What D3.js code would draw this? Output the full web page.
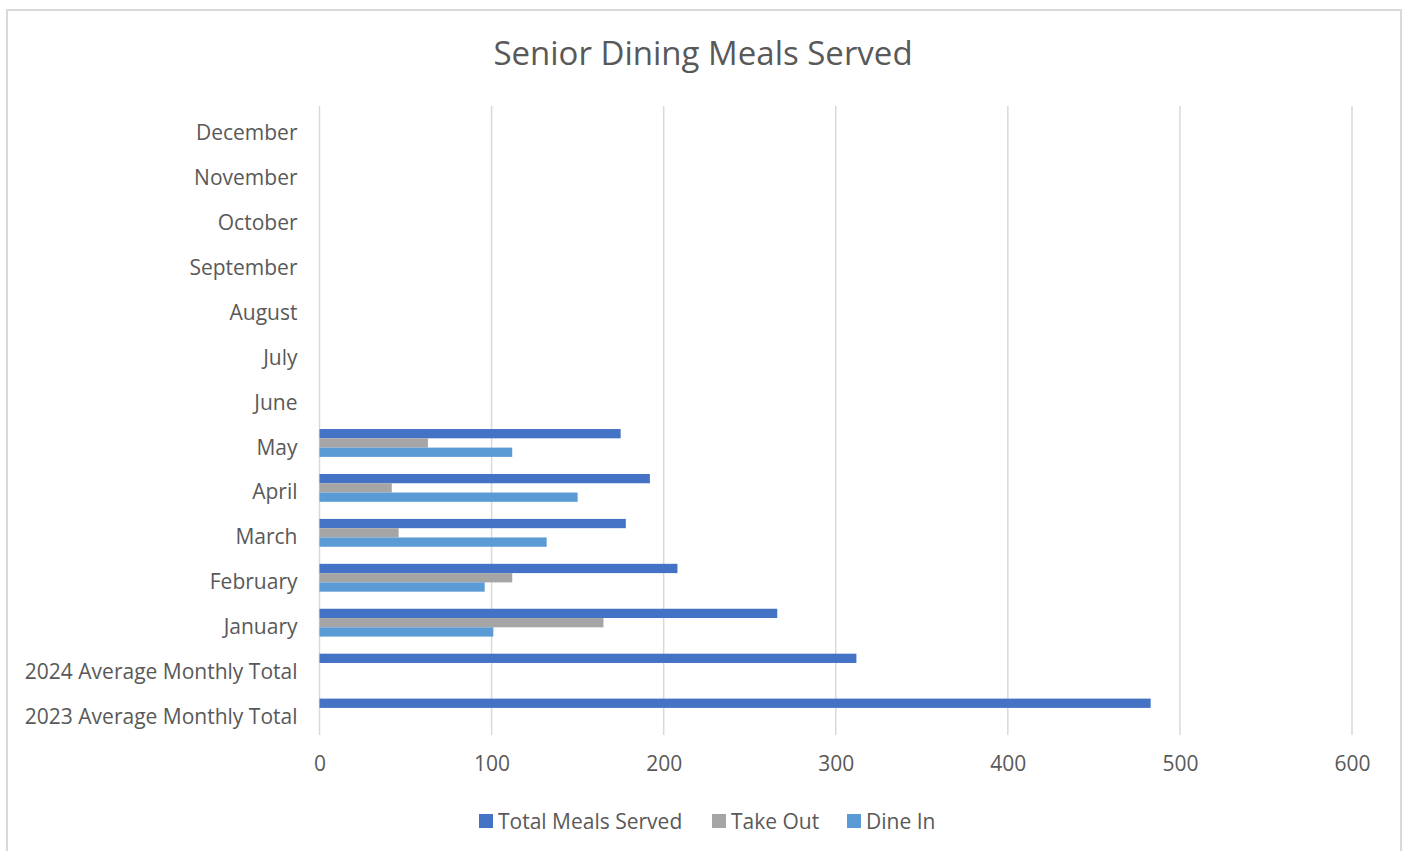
<!DOCTYPE html>
<html>
<head>
<meta charset="utf-8">
<script src="https://cdn.jsdelivr.net/npm/d3@7"></script>
<style>
  body { margin: 0; background: #fff; }
  text { font-family: "Open Sans", "Noto Sans", sans-serif; fill: #595959; }
</style>
</head>
<body>
<svg id="chart" width="1406" height="851"></svg>
<script>
// categories top to bottom, as shown on the chart
var categories = ["December", "November", "October", "September", "August", "July", "June",
  "May", "April", "March", "February", "January", "2024 Average Monthly Total", "2023 Average Monthly Total"]
var series = ["Total Meals Served", "Take Out", "Dine In"]
var totalMeals = [null, null, null, null, null, null, null, 175, 192, 178, 208, 266, 312, 483]
var takeOut = [null, null, null, null, null, null, null, 63, 42, 46, 112, 165, null, null]
var dineIn = [null, null, null, null, null, null, null, 112, 150, 132, 96, 101, null, null]
var xTicks = [0, 100, 200, 300, 400, 500, 600]

var colors = { "Total Meals Served": "#4472C4", "Take Out": "#A5A5A5", "Dine In": "#5B9BD5" }
var values = { "Total Meals Served": totalMeals, "Take Out": takeOut, "Dine In": dineIn }

var svg = d3.select("#chart")
var margin = { left: 319.5, right: 1352, top: 106, bottom: 735 }

// chart frame (bottom edge runs off the page)
svg.append("rect").attr("x", 7).attr("y", 10).attr("width", 1394).attr("height", 900)
  .attr("fill", "none").attr("stroke", "#d9d9d9").attr("stroke-width", 2)

svg.append("text").attr("x", 703).attr("y", 65).attr("text-anchor", "middle")
  .attr("font-size", 33).text("Senior Dining Meals Served")

var x = d3.scaleLinear().domain([0, 600]).range([margin.left, margin.right])
var y = d3.scaleBand().domain(categories).range([margin.top, margin.bottom]).paddingInner(0.38).paddingOuter(0.19)
var ySub = d3.scaleBand().domain(series).range([0, y.bandwidth()])

// gridlines
svg.append("g").selectAll("line").data(xTicks).join("line")
  .attr("x1", d => x(d)).attr("x2", d => x(d))
  .attr("y1", margin.top).attr("y2", margin.bottom)
  .attr("stroke", "#d9d9d9").attr("stroke-width", 1.5)

// x axis labels
var xAxis = svg.append("g").attr("transform", "translate(0," + (margin.bottom + 21) + ")")
  .call(d3.axisBottom(x).tickValues(xTicks).tickSize(0).tickPadding(0))
xAxis.select(".domain").remove()
xAxis.selectAll("text").attr("font-size", 21).attr("fill", "#595959")
  .attr("font-family", "'Open Sans', 'Noto Sans', sans-serif")

// y axis labels
var yAxis = svg.append("g").attr("transform", "translate(" + (margin.left - 22) + ",0)")
  .call(d3.axisLeft(y).tickSize(0).tickPadding(0))
yAxis.select(".domain").remove()
yAxis.selectAll("text").attr("font-size", 21).attr("fill", "#595959").attr("dy", "0.55em")
  .attr("font-family", "'Open Sans', 'Noto Sans', sans-serif")

// bars
series.forEach(function (s) {
  var rows = categories.map((c, i) => ({ cat: c, v: values[s][i] })).filter(d => d.v != null)
  svg.append("g").selectAll("rect").data(rows).join("rect")
    .attr("x", x(0))
    .attr("y", d => y(d.cat) + ySub(s))
    .attr("width", d => x(d.v) - x(0))
    .attr("height", ySub.bandwidth())
    .attr("fill", colors[s])
})

// legend
var legendX = [479, 712, 847]
var legend = svg.append("g").selectAll("g").data(series).join("g")
  .attr("transform", (d, i) => "translate(" + legendX[i] + ",814)")
legend.append("rect").attr("width", 14).attr("height", 14).attr("fill", d => colors[d])
legend.append("text").attr("x", 19).attr("y", 7).attr("dy", "0.36em").attr("font-size", 21).text(d => d)
</script>
</body>
</html>
